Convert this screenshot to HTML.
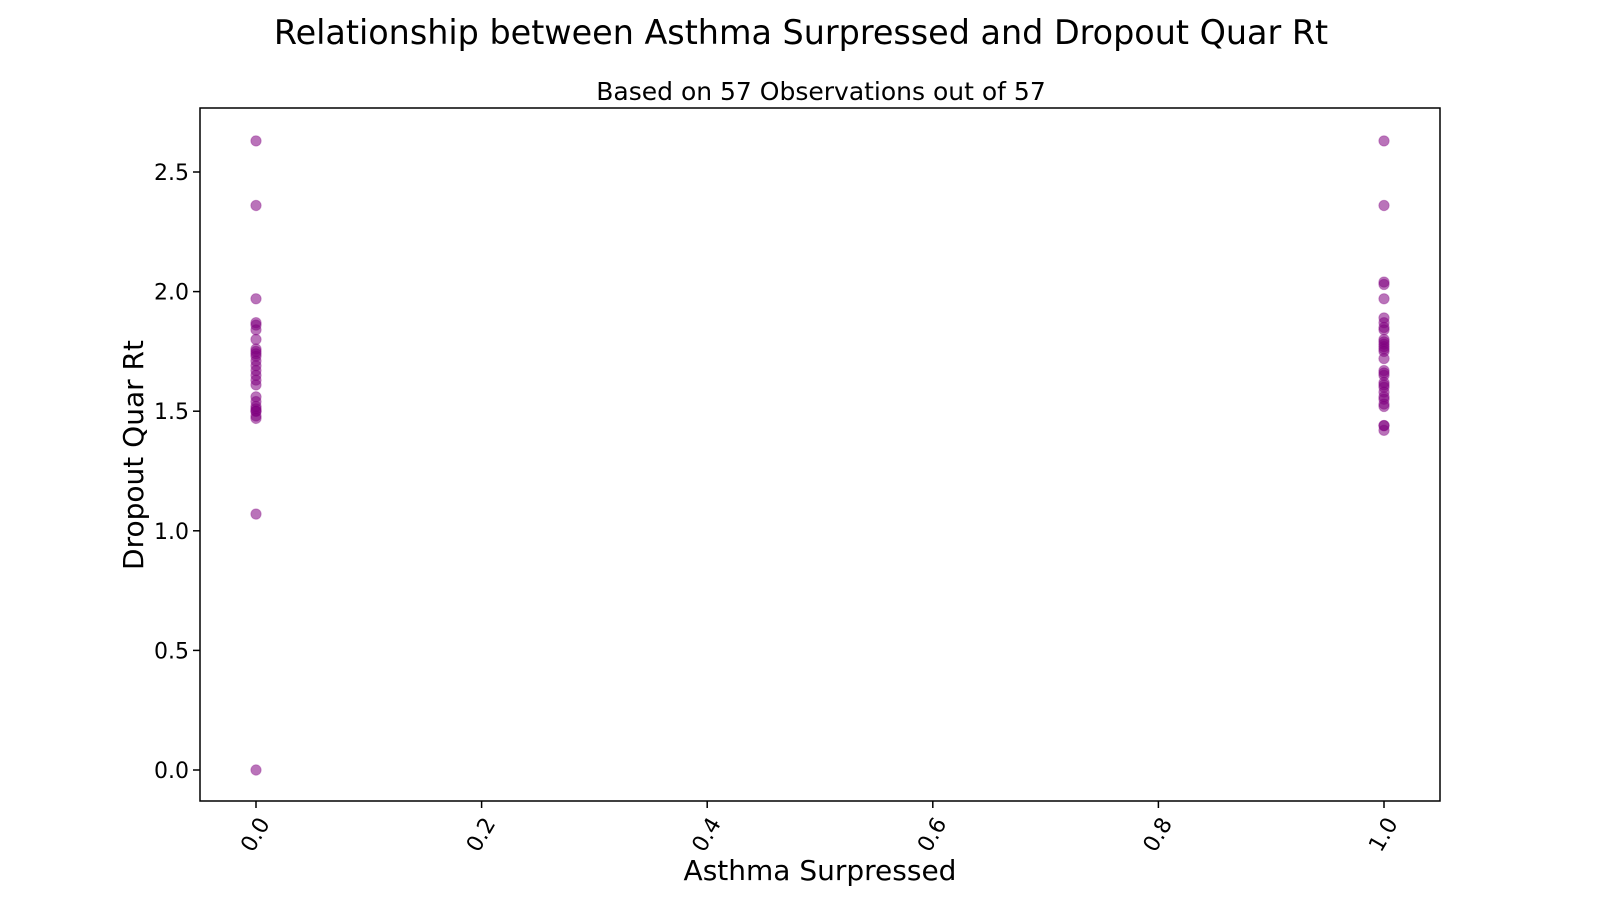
<!DOCTYPE html>
<html><head><meta charset="utf-8"><style>
body{margin:0;background:#fff;width:1600px;height:900px;overflow:hidden}
svg{font-family:"DejaVu Sans","Liberation Sans",sans-serif}
</style></head><body>
<svg id="chart" width="1600" height="900">
<text x="801" y="44" text-anchor="middle" font-size="33.4">Relationship between Asthma Surpressed and Dropout Quar Rt</text>
<text x="821" y="100" text-anchor="middle" font-size="25">Based on 57 Observations out of 57</text>
<rect x="200" y="108" width="1240" height="693" fill="none" stroke="#000" stroke-width="1.5"/>
<g id="xt"></g><g id="yt"></g><g id="pts"></g>
<text x="820" y="880" text-anchor="middle" font-size="28">Asthma Surpressed</text>
<text transform="translate(143,455) rotate(-90)" text-anchor="middle" font-size="28">Dropout Quar Rt</text>
</svg>
<script>
const xTicks=[0,0.2,0.4,0.6,0.8,1.0];
const xTickLabels=["0.0","0.2","0.4","0.6","0.8","1.0"];
const yTicks=[0,0.5,1,1.5,2,2.5];
const yTickLabels=["0.0","0.5","1.0","1.5","2.0","2.5"];
const groupX=[0,1];
const valuesGroup0=[2.63,2.36,1.97,1.87,1.86,1.84,1.80,1.76,1.75,1.74,1.73,1.71,1.69,1.67,1.65,1.63,1.61,1.56,1.54,1.52,1.51,1.50,1.50,1.48,1.47,1.07,0.0];
const valuesGroup1=[2.63,2.36,2.04,2.03,1.97,1.89,1.87,1.85,1.84,1.80,1.79,1.78,1.77,1.76,1.75,1.72,1.67,1.66,1.65,1.62,1.61,1.60,1.58,1.56,1.55,1.53,1.52,1.44,1.44,1.42];
const NS="http://www.w3.org/2000/svg";
const X=v=>256+v*1128, Y=v=>770-v*239.2;
function mk(t,a,p){const e=document.createElementNS(NS,t);for(const k in a)e.setAttribute(k,a[k]);p.appendChild(e);return e;}
const xt=document.getElementById('xt'),yt=document.getElementById('yt'),pts=document.getElementById('pts');
xTicks.forEach((v,i)=>{
 const l=mk('line',{x1:X(v),x2:X(v),y1:801,y2:808,stroke:'#000','stroke-width':1.5},xt);
 
 
 const t=mk('text',{x:0,y:0,'font-size':22,'text-anchor':'middle','dominant-baseline':'central',transform:`translate(${X(v)},835) rotate(-60)`},xt);
 t.textContent=xTickLabels[i];
 
 
});
yTicks.forEach((v,i)=>{
 const l=mk('line',{x1:193,x2:200,y1:Y(v),y2:Y(v),stroke:'#000','stroke-width':1.5},yt);
 
 
 const t=mk('text',{x:189,y:Y(v)+8,'font-size':22,'text-anchor':'end'},yt);
 t.textContent=yTickLabels[i];
 
 
});
[valuesGroup0,valuesGroup1].forEach((arr,g)=>arr.forEach(v=>{
 const c=mk('circle',{cx:X(groupX[g]),cy:Y(v),r:5.2,fill:'purple','fill-opacity':0.55,stroke:'purple','stroke-opacity':0.3},pts);
 
 
}));
</script>
</body></html>
